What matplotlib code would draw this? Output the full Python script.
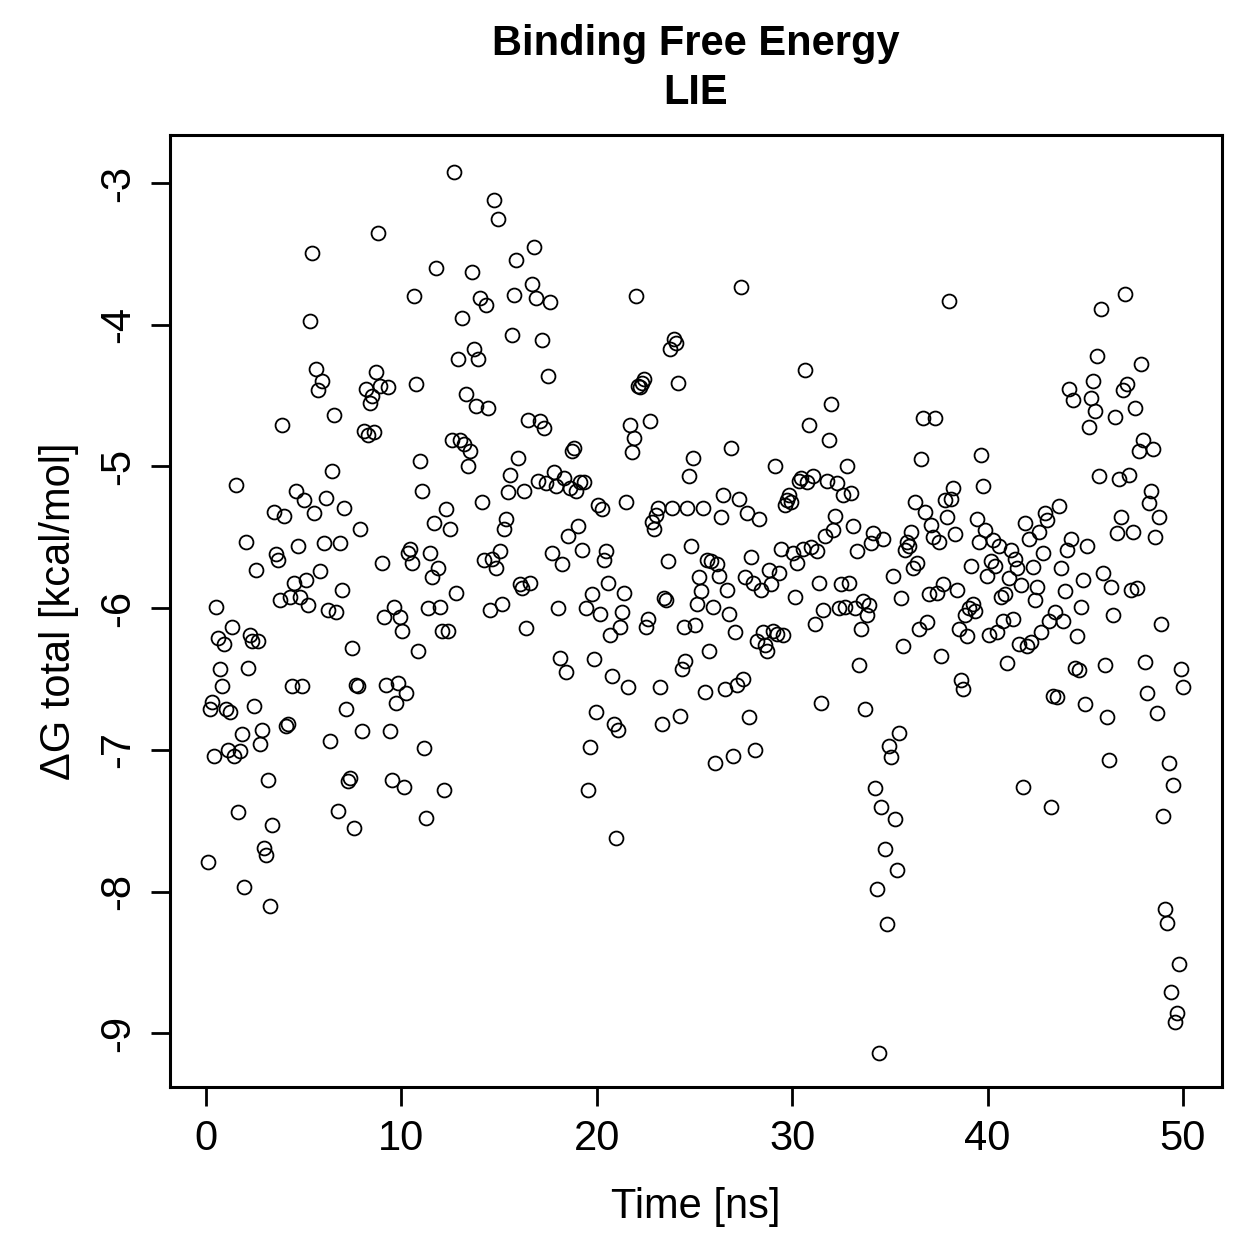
import numpy as np
import matplotlib
matplotlib.use("Agg")
import matplotlib.pyplot as plt

plt.rcParams['font.family'] = ['Liberation Sans', 'DejaVu Sans']

# LIE binding free energy along the trajectory (kcal/mol), one frame per step
dg_total = [
    -7.79, -6.71, -6.66, -7.04, -5.99, -6.21, -6.43, -6.55, -6.25, -6.71,
    -7.00, -6.73, -6.13, -7.04, -5.13, -7.44, -7.01, -6.89, -7.97, -5.53,
    -6.42, -6.19, -6.23, -6.69, -5.73, -6.23, -6.96, -6.86, -7.69, -7.74,
    -7.21, -8.10, -7.53, -5.32, -5.62, -5.66, -5.94, -4.71, -5.35, -6.83,
    -6.82, -5.92, -6.55, -5.82, -5.17, -5.56, -5.92, -6.55, -5.24, -5.80,
    -5.98, -3.97, -3.49, -5.33, -4.31, -4.46, -5.74, -4.40, -5.54, -5.22,
    -6.01, -6.94, -5.03, -4.64, -6.03, -7.43, -5.54, -5.87, -5.29, -6.71,
    -7.22, -7.20, -6.28, -7.55, -6.54, -6.55, -5.44, -6.87, -4.75, -4.45,
    -4.78, -4.55, -4.50, -4.76, -4.33, -3.35, -4.43, -5.68, -6.06, -6.54,
    -4.44, -6.87, -7.21, -5.99, -6.67, -6.53, -6.06, -6.16, -7.26, -6.60,
    -5.61, -5.58, -5.68, -3.80, -4.42, -6.30, -4.96, -5.17, -6.99, -7.48,
    -6.00, -5.61, -5.78, -5.40, -3.60, -5.72, -5.99, -6.16, -7.28, -5.30,
    -6.16, -5.44, -4.81, -2.92, -5.89, -4.24, -4.81, -3.95, -4.84, -4.49,
    -5.00, -4.89, -3.63, -4.17, -4.57, -4.24, -3.81, -5.25, -5.66, -3.86,
    -4.59, -6.01, -5.65, -3.12, -5.72, -3.25, -5.60, -5.97, -5.44, -5.37,
    -5.18, -5.06, -4.07, -3.79, -3.54, -4.94, -5.83, -5.86, -5.17, -6.14,
    -4.67, -5.82, -3.71, -3.45, -3.81, -5.10, -4.68, -4.11, -4.73, -5.12,
    -4.36, -3.84, -5.61, -5.04, -5.14, -6.00, -6.35, -5.69, -5.08, -6.45,
    -5.49, -5.15, -4.89, -4.87, -5.17, -5.42, -5.11, -5.59, -5.11, -6.00,
    -7.28, -6.98, -5.90, -6.36, -6.73, -5.27, -6.04, -5.30, -5.66, -5.60,
    -5.82, -6.19, -6.48, -6.82, -7.62, -6.86, -6.13, -6.03, -5.89, -5.25,
    -6.56, -4.71, -4.90, -4.80, -3.80, -4.43, -4.44, -4.41, -4.38, -6.13,
    -6.08, -4.68, -5.39, -5.44, -5.34, -5.29, -6.56, -6.82, -5.93, -5.94,
    -5.67, -4.17, -5.29, -4.10, -4.13, -4.41, -6.76, -6.43, -6.13, -6.37,
    -5.29, -5.07, -5.56, -4.94, -6.12, -5.97, -5.78, -5.88, -5.29, -6.59,
    -5.66, -6.30, -5.67, -5.99, -7.09, -5.69, -5.77, -5.36, -5.20, -6.57,
    -5.87, -6.04, -4.87, -7.04, -6.17, -6.54, -5.23, -3.73, -6.50, -5.78,
    -5.33, -6.77, -5.64, -5.82, -7.00, -6.23, -5.37, -5.87, -6.17, -6.26,
    -6.30, -5.73, -5.83, -6.16, -5.00, -6.18, -5.75, -5.58, -6.19, -5.27,
    -5.24, -5.20, -5.25, -5.61, -5.92, -5.68, -5.10, -5.08, -5.58, -4.32,
    -5.11, -4.71, -5.57, -5.07, -6.11, -5.60, -5.82, -6.67, -6.01, -5.49,
    -5.10, -4.81, -4.56, -5.45, -5.35, -5.12, -6.00, -5.83, -5.20, -5.99,
    -5.00, -5.82, -5.19, -5.42, -6.00, -5.60, -6.40, -6.15, -5.95, -6.71,
    -6.05, -5.98, -5.54, -5.47, -7.27, -7.98, -9.14, -7.40, -5.51, -7.70,
    -8.23, -6.97, -7.05, -5.77, -7.49, -7.85, -6.88, -5.93, -6.27, -5.59,
    -5.53, -5.56, -5.46, -5.72, -5.25, -5.68, -6.15, -4.95, -4.66, -5.32,
    -6.10, -5.90, -5.41, -5.50, -4.66, -5.89, -5.53, -6.34, -5.83, -5.24,
    -5.36, -3.83, -5.23, -5.15, -5.48, -5.87, -6.15, -6.51, -6.57, -6.05,
    -6.20, -6.00, -5.70, -5.97, -6.02, -5.37, -5.53, -4.92, -5.14, -5.45,
    -5.77, -6.19, -5.67, -5.52, -5.70, -6.17, -5.56, -5.92, -6.09, -5.90,
    -6.39, -5.79, -5.59, -6.08, -5.65, -5.72, -6.25, -5.84, -7.26, -5.40,
    -6.27, -5.51, -6.24, -5.71, -5.94, -5.85, -5.46, -6.17, -5.61, -5.33,
    -5.38, -6.09, -7.40, -6.62, -6.03, -6.63, -5.28, -5.72, -6.09, -5.88,
    -5.59, -4.45, -5.51, -4.53, -6.42, -6.20, -6.44, -5.99, -5.80, -6.68,
    -5.56, -4.72, -4.52, -4.40, -4.61, -4.22, -5.07, -3.89, -5.75, -6.40,
    -6.77, -7.07, -5.85, -6.05, -4.65, -5.47, -5.09, -5.36, -4.46, -3.78,
    -4.42, -5.06, -5.87, -5.46, -4.59, -5.86, -4.89, -4.28, -4.81, -6.38,
    -6.60, -5.26, -5.17, -4.88, -5.50, -6.74, -5.36, -6.11, -7.47, -8.12,
    -8.22, -7.09, -8.71, -7.25, -8.92, -8.86, -8.51, -6.43, -6.56,
]
# frames are evenly spaced over the 50 ns run
time_ns = np.linspace(0.1, 50.0, len(dg_total))

x_ticks = [0, 10, 20, 30, 40, 50]
y_ticks = [-3, -4, -5, -6, -7, -8, -9]

fig = plt.figure(figsize=(12.59, 12.59), dpi=100)
ax = fig.add_axes([0.135, 0.1366, 0.8356, 0.7562])

ax.plot(time_ns, dg_total, linestyle='none', marker='o', markersize=10,
        markerfacecolor='none', markeredgecolor='black', markeredgewidth=1.3)

ax.set_xlim(-1.85, 52.0)
ax.set_ylim(-9.38, -2.66)
ax.set_xticks(x_ticks)
ax.set_yticks(y_ticks)
ax.set_yticklabels([str(v) for v in y_ticks], rotation=90, va='center')

for s in ax.spines.values():
    s.set_linewidth(2.2)
ax.tick_params(direction='out', length=14, width=2, labelsize=30, pad=9)

ax.set_xlabel('Time [ns]', fontsize=30, labelpad=20)
ax.set_ylabel('ΔG total [kcal/mol]', fontsize=30, labelpad=14)
ax.set_title('Binding Free Energy\nLIE', fontsize=30, fontweight='bold', pad=22,
             linespacing=1.3)

fig.savefig('out.png', dpi=100)
